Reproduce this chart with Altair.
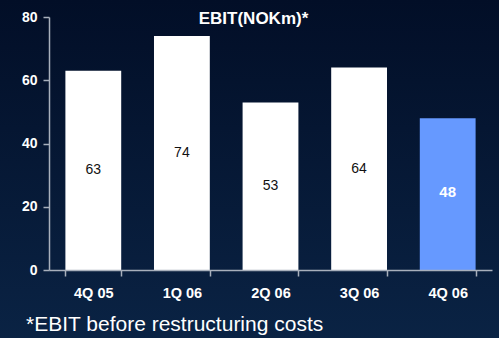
import altair as alt
import pandas as pd

quarters = ["4Q 05", "1Q 06", "2Q 06", "3Q 06", "4Q 06"]
ebit = [63, 74, 53, 64, 48]
bar_colors = ["#ffffff", "#ffffff", "#ffffff", "#ffffff", "#6699ff"]
label_colors = ["#111111", "#111111", "#111111", "#111111", "#ffffff"]
label_weights = ["normal", "normal", "normal", "normal", "bold"]

df = pd.DataFrame({
    "q": quarters, "v": ebit, "bc": bar_colors, "lc": label_colors, "lw": label_weights,
    "half": [v / 2 for v in ebit],
})

FONT = "Liberation Sans"

x = alt.X("q:N", sort=quarters, title=None,
          scale=alt.Scale(paddingInner=0.37, paddingOuter=0.185),
          axis=alt.Axis(labelAngle=0, labelColor="white", labelFont=FONT, labelFontSize=14.5,
                        labelFontWeight="bold", labelPadding=10, tickBand="extent",
                        domainColor="#a8b0bc", tickColor="#a8b0bc", tickSize=6, domainWidth=1.5,
                        tickWidth=1.5, zindex=1))
y = alt.Y("v:Q", title=None,
          scale=alt.Scale(domain=[0, 80], nice=False),
          axis=alt.Axis(values=[0, 20, 40, 60, 80], grid=False, labelColor="white", labelFont=FONT,
                        labelFontSize=14, labelFontWeight="bold", labelPadding=6,
                        domainColor="#a8b0bc", tickColor="#a8b0bc", tickSize=6, domainWidth=1.5,
                        tickWidth=1.5, zindex=1))

bg = alt.Chart(pd.DataFrame({"a": [0]})).mark_rect(
    color=alt.Gradient(gradient="linear", x1=0, x2=0, y1=0, y2=1,
                       stops=[alt.GradientStop(offset=0, color="#020e27"),
                              alt.GradientStop(offset=1, color="#0a2344")]),
    clip=False).encode(x=alt.value(-49), x2=alt.value(450), y=alt.value(-17), y2=alt.value(321))

bars = alt.Chart(df).mark_bar().encode(x=x, y=y, color=alt.Color("bc:N", scale=None))

labels_norm = alt.Chart(df).transform_filter("datum.lw == 'normal'").mark_text(
    font=FONT, fontSize=14, baseline="middle").encode(
    x=alt.X("q:N", sort=quarters), y=alt.Y("half:Q"), text="v:Q",
    color=alt.Color("lc:N", scale=None))
labels_bold = alt.Chart(df).transform_filter("datum.lw == 'bold'").mark_text(
    font=FONT, fontSize=15, fontWeight="bold", baseline="middle", dy=-2).encode(
    x=alt.X("q:N", sort=quarters), y=alt.Y("half:Q"), text="v:Q",
    color=alt.Color("lc:N", scale=None))

title = alt.Chart(pd.DataFrame({"t": ["EBIT(NOKm)*"]})).mark_text(
    font=FONT, fontSize=17, fontWeight="bold", color="white", baseline="middle").encode(
    x=alt.value(204.5), y=alt.value(2), text="t:N")

foot = alt.Chart(pd.DataFrame({"t": ["*EBIT before restructuring costs"]})).mark_text(
    font=FONT, fontSize=21, color="white", align="left", baseline="alphabetic", clip=False).encode(
    x=alt.value(-23), y=alt.value(313.5), text="t:N")

chart = alt.layer(bg, bars, labels_norm, labels_bold, title, foot).properties(
    width=443, height=253,
    background="#05193a",
    padding={"left": 49, "top": 17, "right": 7, "bottom": 68},
    autosize=alt.AutoSizeParams(type="none"),
).configure_view(stroke=None)

chart.save("out.html", embed_options={"renderer": "svg", "actions": False})
